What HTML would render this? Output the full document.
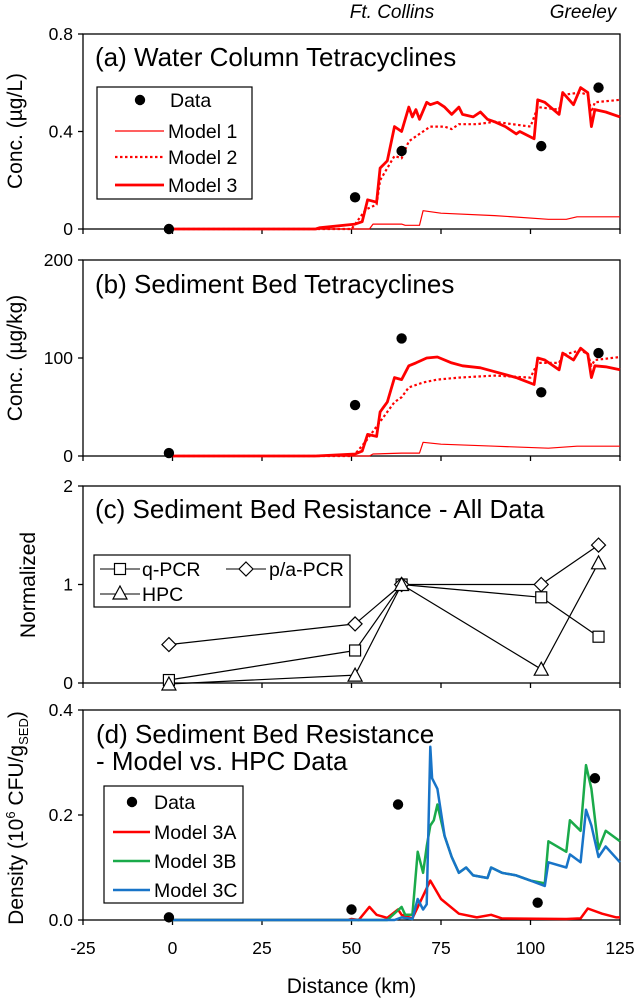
<!DOCTYPE html>
<html><head><meta charset="utf-8"><style>
body{margin:0;background:#fff}
svg{display:block;font-family:"Liberation Sans",sans-serif}
</style></head><body>
<svg id="c" width="636" height="1000" viewBox="0 0 636 1000" xmlns="http://www.w3.org/2000/svg"></svg>
<script>
// ---- data ----
const xTicks = [-25,0,25,50,75,100,125];
const aTicks = ["0","0.4","0.8"], aTickVals=[0,0.4,0.8];
const bTickVals=[0,100,200];
const cTickVals=[0,1,2];
const dTickVals=[0,0.2,0.4], dTicks=["0.0","0.2","0.4"];
const dataX_a=[-1,51,64,103,119];
const dataY_a=[0,0.13,0.32,0.34,0.58];
const m1x_a=[0,55,56,64,65,69,70,75,90,105,110,113,125];
const m1y_a=[0,0,0.02,0.02,0.015,0.015,0.075,0.065,0.055,0.04,0.04,0.05,0.05];
const m2x_a=[0,50,51,54,57,58,60,62,64,66,68,70,72,76,78,80,85,90,95,100,102,108,109,114,116,117,118,125];
const m2y_a=[0,0,0.02,0.08,0.1,0.2,0.25,0.3,0.29,0.36,0.38,0.4,0.42,0.42,0.41,0.43,0.43,0.44,0.43,0.42,0.5,0.49,0.55,0.56,0.55,0.48,0.52,0.53];
const m3x_a=[0,40,41,51,53,54.5,57,58,60,62,64,66,67,68,69,71,72,74,76,78,80,81,84,86,88,90,93,96,97,101,102,104,108,109,112,114,116,117,118,121,125];
const m3y_a=[0,0,0.005,0.02,0.03,0.12,0.11,0.25,0.28,0.42,0.4,0.5,0.46,0.49,0.45,0.52,0.51,0.52,0.5,0.47,0.5,0.47,0.46,0.48,0.45,0.44,0.42,0.39,0.4,0.37,0.53,0.52,0.47,0.56,0.51,0.58,0.56,0.42,0.49,0.48,0.46];
const dataX_b=[-1,51,64,103,119];
const dataY_b=[3,52,120,65,105];
const m1x_b=[0,55,56,64,69,70,75,90,105,113,125];
const m1y_b=[0,0,2,3,3,14,12,10,8,10,10];
const m2x_b=[0,50,51,54,58,62,64,66,70,74,80,90,100,102,108,109,114,116,117,118,125];
const m2y_b=[0,0,2,15,35,55,60,70,75,78,80,82,80,95,95,103,108,104,92,98,101];
const m3x_b=[0,40,51,53,54.5,57,58,60,62,64,66,68,71,74,78,81,86,90,96,101,102,104,108,109,112,114,116,117,118,121,125];
const m3y_b=[0,0,2,5,22,20,45,55,80,78,92,95,100,101,95,92,90,86,80,73,100,98,88,105,98,110,104,80,92,91,88];
const cX=[-1,51,64,103,119];
const qpcr=[0.03,0.33,1,0.87,0.47];
const papcr=[0.39,0.6,1,1,1.4];
const hpc=[-0.01,0.08,1,0.14,1.22];
const dataX_d=[-1,50,63,102,118];
const dataY_d=[0.005,0.02,0.22,0.033,0.27];
const m3ax=[0,49,50,52,55,57,60,63,64,67,72,75,80,85,89,92,110,114,116,120,124,125];
const m3ay=[0,0,0.002,0,0.025,0.01,0.004,0.02,0.01,0.003,0.075,0.04,0.012,0.005,0.01,0.003,0.002,0.003,0.022,0.012,0.005,0.005];
const m3bx=[0,60,64,65,67,68.5,70,71,72,73,74,76,78,80,82,84,88,89,92,96,100,104,105,110,111,114,115.5,117,119,121,125];
const m3by=[0,0,0.025,0.01,0.01,0.13,0.09,0.14,0.18,0.19,0.22,0.16,0.12,0.09,0.1,0.085,0.08,0.1,0.09,0.085,0.075,0.07,0.15,0.13,0.19,0.17,0.295,0.25,0.135,0.17,0.15];
const m3cx=[0,62,64,67,68.5,70,71,72,72.5,74,76,78,80,82,84,88,89,92,96,100,104,105,110,111,114,115.5,117,119,121,125];
const m3cy=[0,0,0.005,0.002,0.04,0.02,0.03,0.33,0.27,0.25,0.16,0.12,0.09,0.1,0.085,0.08,0.1,0.09,0.085,0.075,0.065,0.11,0.1,0.125,0.11,0.21,0.18,0.12,0.14,0.11];

// ---- drawing ----
const svg=document.getElementById('c');
const NS='http://www.w3.org/2000/svg';
function mk(tag,attrs,parent){const e=document.createElementNS(NS,tag);for(const k in attrs)e.setAttribute(k,attrs[k]);(parent||svg).appendChild(e);return e;}
const L=83,R=620;
const xs=v=>L+(v+25)*(R-L)/150;
function yScale(top,bot,max,min){min=min||0;return v=>bot-(v-min)*(bot-top)/(max-min);}
function txt(s,x,y,o,name){const t=mk('text',Object.assign({x:x,y:y,'font-size':17.5,fill:'#000'},o||{}));t.textContent=s;return t;}
function panel(name,top,bot,ys,tickVals,tickLabels){
  const g=mk('g',{});
  const r=mk('rect',{x:L,y:top,width:R-L,height:bot-top,fill:'none',stroke:'#000','stroke-width':1.3},g);
  
  xTicks.forEach(v=>{const t=mk('line',{x1:xs(v),x2:xs(v),y1:bot,y2:bot+5,stroke:'#000','stroke-width':1.3},g);
    });
  tickVals.forEach((v,i)=>{const t=mk('line',{x1:L-5,x2:L,y1:ys(v),y2:ys(v),stroke:'#000','stroke-width':1.3},g);
    
    txt(tickLabels[i],L-10,ys(v)+6,{'text-anchor':'end'},'y-tick-label');});
  return g;
}
function line(xa,ya,ys,color,w,dash,name){
  const p=xa.map((x,i)=>xs(x).toFixed(1)+','+ys(ya[i]).toFixed(1)).join(' ');
  const e=mk('polyline',{points:p,fill:'none',stroke:color,'stroke-width':w,'stroke-linejoin':'round'});
  if(dash)e.setAttribute('stroke-dasharray',dash);
  return e;
}
function dots(xa,ya,ys,r,name){xa.forEach((x,i)=>{const c=mk('circle',{cx:xs(x),cy:ys(ya[i]),r:r,fill:'#000'});
  });}
function marker(type,x,y,name){let e;
  if(type==='sq')e=mk('rect',{x:x-5.5,y:y-5.5,width:11,height:11,fill:'#fff',stroke:'#000','stroke-width':1.2});
  else if(type==='di')e=mk('polygon',{points:`${x},${y-7} ${x+7},${y} ${x},${y+7} ${x-7},${y}`,fill:'#fff',stroke:'#000','stroke-width':1.2});
  else e=mk('polygon',{points:`${x},${y-7} ${x+7},${y+6} ${x-7},${y+6}`,fill:'#fff',stroke:'#000','stroke-width':1.2});
  }
function legRow(x1,x2,y,color,w,dash,label,name){
  const l=mk('line',{x1:x1,x2:x2,y1:y,y2:y,stroke:color,'stroke-width':w});if(dash)l.setAttribute('stroke-dasharray',dash);
  
  txt(label,x2+4,y+7,{'font-size':19.5},name+'-label');}
function box(x,y,w,h,name){const b=mk('rect',{x:x,y:y,width:w,height:h,fill:'#fff',stroke:'#000','stroke-width':1.2});}

// top labels
txt('Ft. Collins',392,18,{'font-size':19,'font-style':'italic','text-anchor':'middle'},'ft-collins-label');
txt('Greeley',583,18,{'font-size':19,'font-style':'italic','text-anchor':'middle'},'greeley-label');

// panel a
const ya=yScale(34,229,0.8);
panel('panel-a',34,229,ya,aTickVals,aTicks);
txt('(a) Water Column Tetracyclines',95,66,{'font-size':26},'panel-a-title');
txt('Conc. (µg/L)',0,0,{'font-size':21,'text-anchor':'middle',transform:'translate(22,131) rotate(-90)'},'panel-a-y-title');
line(m1x_a,m1y_a,ya,'#f00',1.2,null,'model-1-line');
line(m2x_a,m2y_a,ya,'#f00',2.2,'2.5,2.5','model-2-line');
line(m3x_a,m3y_a,ya,'#f00',2.8,null,'model-3-line');
dots(dataX_a,dataY_a,ya,5.2,'data-point');
box(97,87,155,112,'legend-a');
mk('circle',{cx:140,cy:100,r:5.2,fill:'#000'});
txt('Data',170,107,{'font-size':19.5},'legend-data-label');
legRow(115,164,131,'#f00',1.2,null,'Model 1','legend-model-1');
legRow(115,164,157,'#f00',2.2,'2.5,2.5','Model 2','legend-model-2');
legRow(115,164,185,'#f00',2.8,null,'Model 3','legend-model-3');

// panel b
const yb=yScale(260,456,200);
panel('panel-b',260,456,yb,bTickVals,["0","100","200"]);
txt('(b) Sediment Bed Tetracyclines',95,293,{'font-size':26},'panel-b-title');
txt('Conc. (µg/kg)',0,0,{'font-size':21,'text-anchor':'middle',transform:'translate(22,358) rotate(-90)'},'panel-b-y-title');
line(m1x_b,m1y_b,yb,'#f00',1.2,null,'model-1-line-b');
line(m2x_b,m2y_b,yb,'#f00',2.2,'2.5,2.5','model-2-line-b');
line(m3x_b,m3y_b,yb,'#f00',2.8,null,'model-3-line-b');
dots(dataX_b,dataY_b,yb,5.2,'data-point-b');

// panel c
const yc=yScale(486,683,2);
panel('panel-c',486,683,yc,cTickVals,["0","1","2"]);
txt('(c) Sediment Bed Resistance - All Data',95,518,{'font-size':26},'panel-c-title');
txt('Normalized',0,0,{'font-size':21,'text-anchor':'middle',transform:'translate(35,585) rotate(-90)'},'panel-c-y-title');
line(cX,qpcr,yc,'#000',1.2,null,'qpcr-line');
line(cX,papcr,yc,'#000',1.2,null,'papcr-line');
line(cX,hpc,yc,'#000',1.2,null,'hpc-line');
cX.forEach((x,i)=>{marker('sq',xs(x),yc(qpcr[i]),'qpcr-marker');marker('di',xs(x),yc(papcr[i]),'papcr-marker');marker('tr',xs(x),yc(hpc[i]),'hpc-marker');});
box(94,555,256,52,'legend-c');
mk('line',{x1:100,x2:140,y1:569,y2:569,stroke:'#000'});marker('sq',120,569,'legend-qpcr-marker');txt('q-PCR',142,576,{'font-size':19.5},'legend-qpcr-label');
mk('line',{x1:226,x2:266,y1:569,y2:569,stroke:'#000'});marker('di',246,569,'legend-papcr-marker');txt('p/a-PCR',269,576,{'font-size':19.5},'legend-papcr-label');
mk('line',{x1:100,x2:140,y1:594,y2:594,stroke:'#000'});marker('tr',120,593,'legend-hpc-marker');txt('HPC',142,601,{'font-size':19.5},'legend-hpc-label');

// panel d
const yd=yScale(710,920,0.4);
panel('panel-d',710,920,yd,dTickVals,dTicks);
txt('(d) Sediment Bed Resistance',96,743,{'font-size':26},'panel-d-title');
txt('- Model vs. HPC Data',96,770,{'font-size':26},'panel-d-title-2');
const yt=txt('',0,0,{'font-size':21,'text-anchor':'middle',transform:'translate(23,818) rotate(-90)'},'panel-d-y-title');
yt.innerHTML='Density (10<tspan dy="-8" font-size="13">6</tspan><tspan dy="8"> CFU/g</tspan><tspan dy="5" font-size="13">SED</tspan><tspan dy="-5">)</tspan>';
line(m3ax,m3ay,yd,'#f00',2.5,null,'model-3a-line');
line(m3bx,m3by,yd,'#1aaa4a',2.5,null,'model-3b-line');
line(m3cx,m3cy,yd,'#1874c8',2.5,null,'model-3c-line');
dots(dataX_d,dataY_d,yd,5.2,'data-point-d');
box(104,786,139,117,'legend-d');
mk('circle',{cx:132,cy:802,r:5.2,fill:'#000'});
txt('Data',154,809,{'font-size':19.5},'legend-d-data-label');
legRow(113,150,832,'#f00',2.5,null,'Model 3A','legend-model-3a');
legRow(113,150,861,'#1aaa4a',2.5,null,'Model 3B','legend-model-3b');
legRow(113,150,890,'#1874c8',2.5,null,'Model 3C','legend-model-3c');
xTicks.forEach(v=>txt(String(v),xs(v),954,{'text-anchor':'middle'},'x-tick-label'));
txt('Distance (km)',xs(50),993,{'font-size':21,'text-anchor':'middle'},'x-axis-title');
</script>
</body></html>
